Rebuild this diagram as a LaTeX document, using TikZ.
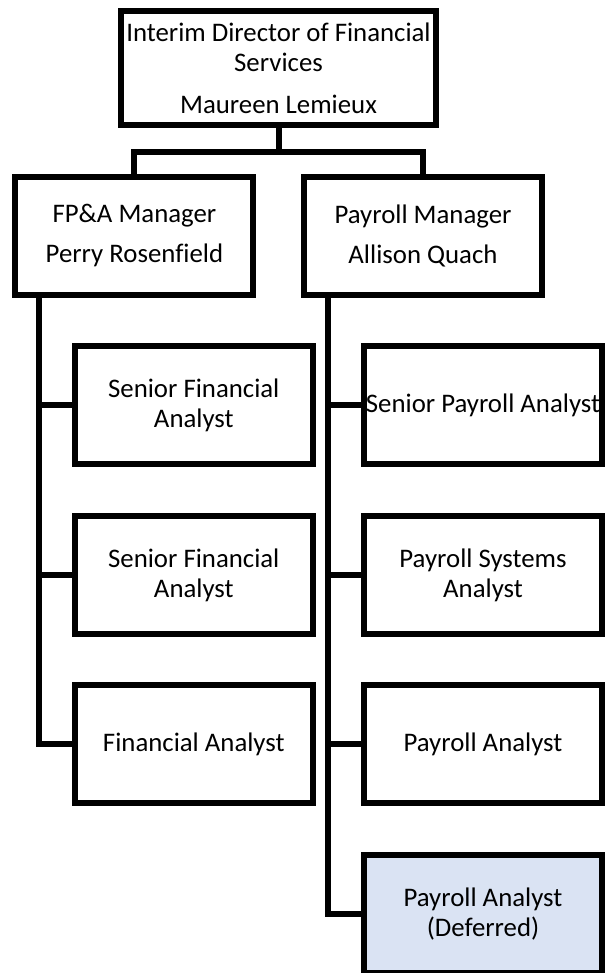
\documentclass[tikz,border=0pt]{standalone}
\usepackage{fontspec}
\setmainfont{Carlito}[Ligatures={NoCommon}]
\definecolor{deferred}{HTML}{DAE3F3}
\begin{document}
\begin{tikzpicture}[x=1pt,y=-1pt,
  box/.style={draw=black, line width=6pt, fill=white, align=center, inner sep=0pt,
    font=\fontsize{26.8}{29.8}\selectfont},
  topbox/.style={box, minimum width=315pt, minimum height=114pt},
  unit/.style={box, minimum width=238pt, minimum height=118pt},
  link/.style={draw=black, line width=6pt, line join=miter}]
\useasboundingbox (0,0) rectangle (605,973);
\clip (0,0) rectangle (605,973);
\node[topbox] (dir) at (278.5,68) {Interim Director of Financial\\Services\\[12pt]Maureen Lemieux};
\node[unit] (fpa) at (134.4,235.8) {FP\&A Manager\\[10.5pt]Perry Rosenfield};
\node[unit] (pm) at (423,236) {Payroll Manager\\[10.5pt]Allison Quach};
\node[unit] (sfa1) at (193.8,405) {Senior Financial\\Analyst};
\node[unit] (sfa2) at (193.8,575) {Senior Financial\\Analyst};
\node[unit] (fa) at (193.8,744) {Financial Analyst};
\node[unit] (spa) at (483,405) {Senior Payroll Analyst};
\node[unit] (psa) at (483,575) {Payroll Systems\\Analyst};
\node[unit] (pa) at (483,744) {Payroll Analyst};
\node[unit, fill=deferred] (pad) at (483,914) {Payroll Analyst\\(Deferred)};
\coordinate (j) at (278.5,151.7);
\coordinate (ls) at (38.8,0);
\coordinate (rs) at (327.8,0);
\draw[link] (dir.south) -- (j);
\draw[link] (fpa.north) |- (j) -| (pm.north);
\draw[link] (ls |- fpa.south) |- (fa.west);
\draw[link] (ls |- sfa1.west) -- (sfa1.west);
\draw[link] (ls |- sfa2.west) -- (sfa2.west);
\draw[link] (rs |- pm.south) |- (pad.west);
\draw[link] (rs |- spa.west) -- (spa.west);
\draw[link] (rs |- psa.west) -- (psa.west);
\draw[link] (rs |- pa.west) -- (pa.west);
\end{tikzpicture}
\end{document}
